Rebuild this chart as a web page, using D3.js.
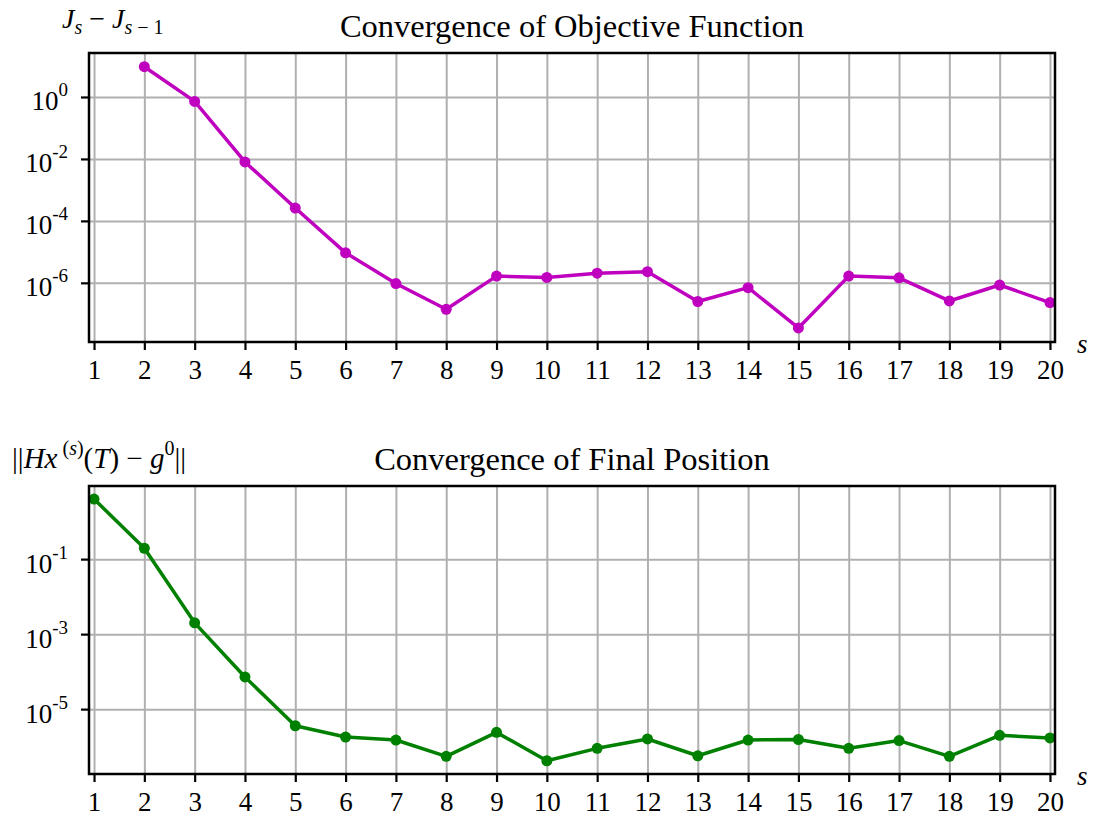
<!DOCTYPE html>
<html>
<head>
<meta charset="utf-8">
<script src="https://cdn.jsdelivr.net/npm/d3@7"></script>
<style>
  body { margin: 0; background: #fff; }
  svg text { font-family: "Liberation Serif", "Times New Roman", serif; fill: #000; }
  .grid line { stroke: #b0b0b0; stroke-width: 2; }
  .grid path { display: none; }
  .axis path { display: none; }
  .axis line { stroke: #000; stroke-width: 2.2; }
</style>
</head>
<body>
<svg id="chart" width="1097" height="821"></svg>
<script>
// iterations
var sTop = [2, 3, 4, 5, 6, 7, 8, 9, 10, 11, 12, 13, 14, 15, 16, 17, 18, 19, 20];
var sBottom = [1, 2, 3, 4, 5, 6, 7, 8, 9, 10, 11, 12, 13, 14, 15, 16, 17, 18, 19, 20];

// J_s - J_{s-1}
var objDiff = [9.5, 0.72, 8e-3, 2.6e-4, 9.3e-6, 9.5e-7, 1.4e-7, 1.65e-6, 1.5e-6, 2.05e-6,
               2.3e-6, 2.5e-7, 7e-7, 3.5e-8, 1.65e-6, 1.45e-6, 2.6e-7, 8.5e-7, 2.3e-7];

// ||H x^(s)(T) - g^0||
var posErr = [4.0, 0.195, 2.0e-3, 7.2e-5, 3.6e-6, 1.8e-6, 1.5e-6, 5.5e-7, 2.4e-6, 4.2e-7,
              9e-7, 1.6e-6, 5.7e-7, 1.5e-6, 1.55e-6, 9e-7, 1.45e-6, 5.5e-7, 2.0e-6, 1.7e-6];

// tick labels
var xTicks = [1, 2, 3, 4, 5, 6, 7, 8, 9, 10, 11, 12, 13, 14, 15, 16, 17, 18, 19, 20];
var yExpTop = [0, -2, -4, -6];
var yExpBottom = [-1, -3, -5];

var svg = d3.select('#chart');
var left = 89, right = 1055;

function drawPanel(opt) {
    var x = d3.scaleLinear().domain([0.9, 20.1]).range([left, right]);
    var y = d3.scaleLog().domain(opt.yDomain).range([opt.bottom, opt.top]);
    var yTickVals = opt.exps.map(function(e) { return Math.pow(10, e); });
    var w = right - left, h = opt.bottom - opt.top;

    var g = svg.append('g');

    // grid first so it sits behind
    g.append('g').attr('class', 'grid')
        .attr('transform', 'translate(0,' + opt.bottom + ')')
        .call(d3.axisBottom(x).tickValues(xTicks).tickSize(-h).tickFormat(''));
    g.append('g').attr('class', 'grid')
        .attr('transform', 'translate(' + left + ',0)')
        .call(d3.axisLeft(y).tickValues(yTickVals).tickSize(-w).tickFormat(''));

    // line + markers
    var pts = opt.s.map(function(s, i) { return [s, opt.vals[i]]; });
    var line = d3.line()
        .x(function(d) { return x(d[0]); })
        .y(function(d) { return y(d[1]); });
    g.append('path').datum(pts)
        .attr('d', line)
        .attr('fill', 'none')
        .attr('stroke', opt.color)
        .attr('stroke-width', 3.5)
        .attr('stroke-linejoin', 'round');
    g.selectAll('circle.pt').data(pts).enter().append('circle')
        .attr('cx', function(d) { return x(d[0]); })
        .attr('cy', function(d) { return y(d[1]); })
        .attr('r', 5.5)
        .attr('fill', opt.color);

    // spines
    g.append('rect')
        .attr('x', left).attr('y', opt.top)
        .attr('width', w).attr('height', h)
        .attr('fill', 'none').attr('stroke', '#000').attr('stroke-width', 2.5);

    // x axis
    var xa = g.append('g').attr('class', 'axis')
        .attr('transform', 'translate(0,' + opt.bottom + ')')
        .call(d3.axisBottom(x).tickValues(xTicks).tickSize(8).tickPadding(10).tickFormat(d3.format('d')));
    xa.selectAll('text').attr('font-size', 27).attr('dy', '0.71em')
        .style('font-family', '"Liberation Serif", "Times New Roman", serif');

    // y axis with 10^n labels
    var ya = g.append('g').attr('class', 'axis')
        .attr('transform', 'translate(' + left + ',0)')
        .call(d3.axisLeft(y).tickValues(yTickVals).tickSize(8).tickFormat(''));
    ya.selectAll('.tick').each(function(d, i) {
        var t = d3.select(this).append('text')
            .attr('x', -21).attr('y', 13)
            .attr('text-anchor', 'end')
            .attr('font-size', 27)
            .style('font-family', '"Liberation Serif", "Times New Roman", serif');
        t.append('tspan').text('10');
        t.append('tspan').attr('dy', -14).attr('font-size', 19).text(String(opt.exps[i]));
    });

    // s label at right
    g.append('text')
        .attr('x', 1077).attr('y', opt.bottom + 11)
        .attr('font-size', 27).attr('font-style', 'italic')
        .text('s');

    // title
    g.append('text')
        .attr('x', (left + right) / 2).attr('y', opt.top - 16)
        .attr('text-anchor', 'middle')
        .attr('font-size', 32.5)
        .text(opt.title);

    return g;
}

drawPanel({
    top: 53, bottom: 342,
    yDomain: [Math.pow(10, -7.91), Math.pow(10, 1.42)],
    exps: yExpTop, s: sTop, vals: objDiff,
    color: '#bf00bf',
    title: 'Convergence of Objective Function'
});

drawPanel({
    top: 486, bottom: 774,
    yDomain: [Math.pow(10, -6.73), Math.pow(10, 0.95)],
    exps: yExpBottom, s: sBottom, vals: posErr,
    color: '#008000',
    title: 'Convergence of Final Position'
});

// y labels (math), spaced out like mathtext
var lab1 = svg.append('text').attr('x', 62).attr('y', 28).attr('font-size', 28)
    .style('white-space', 'pre');
lab1.append('tspan').attr('font-style', 'italic').text('J');
lab1.append('tspan').attr('font-style', 'italic').attr('font-size', 20).attr('dy', 6).text('s');
lab1.append('tspan').attr('dy', -6).text(' \u2212 ');
lab1.append('tspan').attr('font-style', 'italic').text('J');
lab1.append('tspan').attr('font-size', 20).attr('dy', 6).html('<tspan font-style="italic">s</tspan> \u2212 1');

var lab2 = svg.append('text').attr('x', 12).attr('y', 468).attr('font-size', 29)
    .style('white-space', 'pre');
lab2.append('tspan').text('||');
lab2.append('tspan').attr('font-style', 'italic').text('Hx');
lab2.append('tspan').attr('font-size', 20).attr('dy', -13).html(' (<tspan font-style="italic">s</tspan>)');
lab2.append('tspan').attr('dy', 13).html('(<tspan font-style="italic">T</tspan>) \u2212 ');
lab2.append('tspan').attr('font-style', 'italic').text('g');
lab2.append('tspan').attr('font-size', 20).attr('dy', -13).text('0');
lab2.append('tspan').attr('dy', 13).text('||');
</script>
</body>
</html>
